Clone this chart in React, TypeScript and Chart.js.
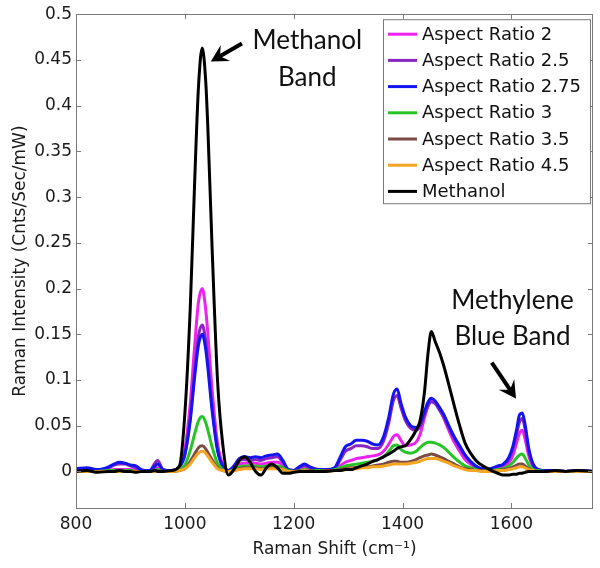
import React, { useEffect, useRef } from "react";
import { Chart, registerables } from "chart.js";

Chart.register(...registerables);

// Raman shift grid (cm^-1)
const ramanShift = [
  800, 820, 840, 860, 870, 880, 890, 900, 910, 920,
  935, 945, 950, 960, 975, 990, 1000, 1010, 1018, 1025,
  1032, 1038, 1042, 1050, 1060, 1070, 1080, 1090, 1100, 1110,
  1120, 1130, 1140, 1150, 1160, 1170, 1180, 1190, 1200, 1210,
  1220, 1230, 1245, 1260, 1275, 1285, 1295, 1305, 1315, 1325,
  1335, 1345, 1355, 1365, 1375, 1383, 1390, 1397, 1405, 1415,
  1425, 1432, 1440, 1447, 1453, 1460, 1468, 1476, 1485, 1495,
  1505, 1515, 1525, 1535, 1545, 1560, 1575, 1585, 1595, 1603,
  1610, 1615, 1620, 1625, 1632, 1640, 1650, 1665, 1680, 1700,
  1720, 1750,
];

const ar2 = [
  0, 0.001, 0, 0.001, 0.002, 0.002, 0.002, 0.002, 0.001, 0,
  0, 0.003, 0.004, 0.001, 0.001, 0.005, 0.024, 0.075, 0.137, 0.185,
  0.2, 0.179, 0.153, 0.09, 0.031, 0.007, 0.001, 0.004, 0.008, 0.009,
  0.009, 0.009, 0.008, 0.009, 0.01, 0.01, 0.007, 0.002, 0.001, 0.002,
  0.003, 0.002, 0.001, 0.001, 0.002, 0.006, 0.01, 0.012, 0.014, 0.015,
  0.016, 0.017, 0.018, 0.022, 0.03, 0.038, 0.04, 0.034, 0.028, 0.029,
  0.032, 0.04, 0.058, 0.072, 0.078, 0.075, 0.068, 0.058, 0.045, 0.032,
  0.022, 0.013, 0.008, 0.004, 0.002, 0.001, 0.003, 0.005, 0.009, 0.018,
  0.032, 0.042, 0.045, 0.036, 0.017, 0.005, 0.001, 0.001, 0, 0,
  0, 0,
];

const ar25 = [
  0.001, 0.002, 0.001, 0.004, 0.007, 0.008, 0.008, 0.006, 0.004, 0.001,
  0.001, 0.009, 0.012, 0.002, 0.001, 0.005, 0.019, 0.06, 0.11, 0.148,
  0.16, 0.144, 0.122, 0.072, 0.025, 0.005, 0.001, 0.005, 0.012, 0.013,
  0.012, 0.013, 0.012, 0.014, 0.015, 0.016, 0.01, 0.002, 0.001, 0.004,
  0.006, 0.004, 0.002, 0.002, 0.003, 0.012, 0.022, 0.025, 0.028, 0.028,
  0.027, 0.025, 0.025, 0.033, 0.054, 0.077, 0.083, 0.07, 0.056, 0.047,
  0.045, 0.049, 0.061, 0.072, 0.076, 0.074, 0.067, 0.059, 0.048, 0.036,
  0.026, 0.017, 0.01, 0.005, 0.003, 0.002, 0.005, 0.007, 0.013, 0.025,
  0.042, 0.054, 0.058, 0.047, 0.022, 0.007, 0.002, 0.001, 0.001, 0,
  0.001, 0,
];

const ar275 = [
  0.003, 0.004, 0.002, 0.005, 0.008, 0.01, 0.009, 0.007, 0.006, 0.002,
  0.001, 0.006, 0.008, 0.002, 0.001, 0.005, 0.018, 0.056, 0.103, 0.138,
  0.15, 0.135, 0.115, 0.067, 0.023, 0.005, 0.001, 0.006, 0.014, 0.016,
  0.015, 0.016, 0.015, 0.017, 0.018, 0.019, 0.012, 0.002, 0.001, 0.005,
  0.008, 0.005, 0.002, 0.002, 0.004, 0.015, 0.027, 0.03, 0.034, 0.034,
  0.033, 0.03, 0.029, 0.038, 0.06, 0.084, 0.09, 0.075, 0.06, 0.05,
  0.048, 0.052, 0.065, 0.076, 0.08, 0.077, 0.07, 0.062, 0.05, 0.038,
  0.028, 0.018, 0.011, 0.006, 0.003, 0.003, 0.006, 0.008, 0.015, 0.028,
  0.047, 0.062, 0.064, 0.052, 0.025, 0.008, 0.002, 0.001, 0.001, 0,
  0.001, 0,
];

const ar3 = [
  0, 0, 0, 0.001, 0.001, 0.001, 0.001, 0.001, 0, 0,
  0, 0.001, 0.002, 0, 0, 0.002, 0.007, 0.023, 0.041, 0.055,
  0.06, 0.054, 0.046, 0.027, 0.009, 0.002, 0, 0.002, 0.005, 0.006,
  0.006, 0.006, 0.005, 0.006, 0.006, 0.006, 0.004, 0.001, 0, 0.001,
  0.002, 0.001, 0.001, 0.001, 0.002, 0.004, 0.006, 0.007, 0.008, 0.009,
  0.01, 0.011, 0.013, 0.016, 0.022, 0.028, 0.029, 0.024, 0.021, 0.02,
  0.022, 0.026, 0.03, 0.032, 0.032, 0.031, 0.029, 0.026, 0.021, 0.015,
  0.01, 0.006, 0.004, 0.002, 0.001, 0.001, 0.002, 0.003, 0.006, 0.01,
  0.015, 0.018, 0.019, 0.015, 0.007, 0.002, 0.001, 0, 0, 0,
  0, 0,
];

const ar35 = [
  0, 0, 0, 0, 0, 0.001, 0, 0, 0, 0,
  0, 0, 0.001, 0, 0, 0.001, 0.003, 0.011, 0.019, 0.026,
  0.028, 0.025, 0.021, 0.013, 0.004, 0.001, 0, 0.001, 0.003, 0.004,
  0.004, 0.004, 0.003, 0.004, 0.005, 0.004, 0.002, 0, 0, 0.001,
  0.001, 0.001, 0, 0.001, 0.001, 0.002, 0.003, 0.004, 0.004, 0.005,
  0.005, 0.006, 0.007, 0.008, 0.01, 0.011, 0.011, 0.01, 0.01, 0.011,
  0.013, 0.015, 0.017, 0.018, 0.019, 0.018, 0.016, 0.014, 0.011, 0.008,
  0.005, 0.003, 0.002, 0.001, 0.001, 0, 0.001, 0.002, 0.003, 0.005,
  0.007, 0.008, 0.008, 0.006, 0.003, 0.001, 0, 0, 0, 0,
  0, 0,
];

const ar45 = [
  0, 0, 0, 0, 0, 0, 0, 0, 0, 0,
  0, 0, 0, 0, 0, 0.001, 0.003, 0.008, 0.015, 0.02,
  0.022, 0.02, 0.017, 0.01, 0.003, 0.001, 0, 0.001, 0.002, 0.003,
  0.003, 0.003, 0.002, 0.003, 0.003, 0.003, 0.002, 0, 0, 0,
  0.001, 0, 0, 0, 0.001, 0.001, 0.002, 0.003, 0.003, 0.004,
  0.004, 0.005, 0.005, 0.006, 0.007, 0.008, 0.008, 0.008, 0.008, 0.009,
  0.01, 0.011, 0.013, 0.014, 0.014, 0.014, 0.013, 0.011, 0.009, 0.006,
  0.004, 0.002, 0.001, 0.001, 0, 0, 0.001, 0.001, 0.002, 0.003,
  0.004, 0.005, 0.005, 0.004, 0.002, 0.001, 0, 0, 0, 0,
  0, 0,
];

const methanol = [
  0, 0.001, -0.001, 0, 0, 0.001, 0, 0, -0.001, 0,
  0, 0.001, 0, 0, 0.001, 0.006, 0.063, 0.18, 0.316, 0.42,
  0.463, 0.43, 0.38, 0.246, 0.1, 0.028, -0.004, 0.002, 0.012, 0.016,
  0.01, 0.0, -0.004, 0.004, 0.008, 0.004, -0.002, -0.002, -0.001, 0,
  0, 0, 0, 0, 0.001, 0.001, 0.002, 0.002, 0.004, 0.006,
  0.008, 0.011, 0.013, 0.016, 0.019, 0.022, 0.025, 0.027, 0.028, 0.035,
  0.045, 0.055, 0.085, 0.13, 0.153, 0.142, 0.13, 0.115, 0.095, 0.072,
  0.05, 0.031, 0.02, 0.012, 0.007, 0.002, -0.002, -0.004, -0.004, -0.003,
  -0.003, -0.002, -0.002, -0.001, 0, 0, 0, 0, 0.001, 0,
  0.001, 0,
];

const seriesNames = [
  "Aspect Ratio 2",
  "Aspect Ratio 2.5",
  "Aspect Ratio 2.75",
  "Aspect Ratio 3",
  "Aspect Ratio 3.5",
  "Aspect Ratio 4.5",
  "Methanol",
];
const seriesValues = [ar2, ar25, ar275, ar3, ar35, ar45, methanol];
const seriesColors = ["#ee22ee", "#8a25c2", "#1414f0", "#27c427", "#7b4b45", "#f5a524", "#000000"];

const xTicks = [800, 1000, 1200, 1400, 1600];
const xTickLabels = ["800", "1000", "1200", "1400", "1600"];
const yTicks = [0, 0.05, 0.1, 0.15, 0.2, 0.25, 0.3, 0.35, 0.4, 0.45, 0.5];
const yTickLabels = ["0", "0.05", "0.1", "0.15", "0.2", "0.25", "0.3", "0.35", "0.4", "0.45", "0.5"];

const xTitle = "Raman Shift (cm\u207B\u00B9)";
const yTitle = "Raman Intensity (Cnts/Sec/mW)";

// annotations in data coordinates
const methanolNote = { lines: ["Methanol", "Band"], x: 1225, y: [0.462, 0.4215] };
const methanolArrow = { from: [1105, 0.468], to: [1050, 0.449] };
const mbNote = { lines: ["Methylene", "Blue Band"], x: 1602, y: [0.178, 0.138] };
const mbArrow = { from: [1564, 0.119], to: [1607, 0.081] };

const TICK_FONT = "DejaVu Sans";

function drawArrow(ctx: CanvasRenderingContext2D, x1: number, y1: number, x2: number, y2: number) {
  const ang = Math.atan2(y2 - y1, x2 - x1);
  ctx.save();
  ctx.strokeStyle = "#000";
  ctx.fillStyle = "#000";
  ctx.lineWidth = 4;
  ctx.lineCap = "butt";
  ctx.beginPath();
  ctx.moveTo(x1, y1);
  ctx.lineTo(x2 - 6 * Math.cos(ang), y2 - 6 * Math.sin(ang));
  ctx.stroke();
  const L = 15;
  const spread = 0.5;
  ctx.beginPath();
  ctx.moveTo(x2, y2);
  ctx.lineTo(x2 - L * Math.cos(ang - spread), y2 - L * Math.sin(ang - spread));
  ctx.lineTo(x2 - 0.55 * L * Math.cos(ang), y2 - 0.55 * L * Math.sin(ang));
  ctx.lineTo(x2 - L * Math.cos(ang + spread), y2 - L * Math.sin(ang + spread));
  ctx.closePath();
  ctx.fill();
  ctx.lineWidth = 1.5;
  ctx.stroke();
  ctx.restore();
}

const overlayPlugin = {
  id: "overlay",
  afterDraw(chart: any) {
    const { ctx, chartArea: a, scales } = chart;
    const xs = scales.x;
    const ys = scales.y;
    ctx.save();
    // axes box
    ctx.strokeStyle = "#7a7a7a";
    ctx.lineWidth = 1;
    ctx.strokeRect(Math.round(a.left) + 0.5, Math.round(a.top) + 0.5, Math.round(a.right - a.left) - 1, Math.round(a.bottom - a.top));
    // inward ticks
    const tl = 5;
    ctx.beginPath();
    xTicks.forEach((v) => {
      const px = Math.round(xs.getPixelForValue(v)) + 0.5;
      ctx.moveTo(px, a.bottom);
      ctx.lineTo(px, a.bottom - tl);
      ctx.moveTo(px, a.top);
      ctx.lineTo(px, a.top + tl);
    });
    yTicks.forEach((v) => {
      const py = Math.round(ys.getPixelForValue(v)) + 0.5;
      ctx.moveTo(a.left, py);
      ctx.lineTo(a.left + tl, py);
      ctx.moveTo(a.right, py);
      ctx.lineTo(a.right - tl, py);
    });
    ctx.stroke();

    // legend
    const lx = a.left + 307;
    const ly = a.top + 5;
    const lw = 207;
    const lh = 184;
    ctx.fillStyle = "#ffffff";
    ctx.fillRect(lx, ly, lw, lh);
    ctx.strokeStyle = "#7a7a7a";
    ctx.strokeRect(lx + 0.5, ly + 0.5, lw, lh);
    ctx.font = `18px "${TICK_FONT}"`;
    ctx.textBaseline = "middle";
    ctx.textAlign = "left";
    seriesNames.forEach((name, i) => {
      const cy = ly + 15 + i * 26.2;
      ctx.strokeStyle = seriesColors[i];
      ctx.lineWidth = 3;
      ctx.beginPath();
      ctx.moveTo(lx + 5, cy);
      ctx.lineTo(lx + 34, cy);
      ctx.stroke();
      ctx.fillStyle = "#111";
      ctx.fillText(name, lx + 39, cy + 1);
    });

    // annotations
    ctx.fillStyle = "#111";
    ctx.font = '26px "Lato"';
    ctx.textAlign = "center";
    ctx.textBaseline = "alphabetic";
    methanolNote.lines.forEach((t, i) => {
      ctx.fillText(t, xs.getPixelForValue(methanolNote.x), ys.getPixelForValue(methanolNote.y[i]));
    });
    mbNote.lines.forEach((t, i) => {
      ctx.fillText(t, xs.getPixelForValue(mbNote.x), ys.getPixelForValue(mbNote.y[i]));
    });
    drawArrow(
      ctx,
      xs.getPixelForValue(methanolArrow.from[0]),
      ys.getPixelForValue(methanolArrow.from[1]),
      xs.getPixelForValue(methanolArrow.to[0]),
      ys.getPixelForValue(methanolArrow.to[1])
    );
    drawArrow(
      ctx,
      xs.getPixelForValue(mbArrow.from[0]),
      ys.getPixelForValue(mbArrow.from[1]),
      xs.getPixelForValue(mbArrow.to[0]),
      ys.getPixelForValue(mbArrow.to[1])
    );
    ctx.restore();
  },
};

export default function App() {
  const ref = useRef<HTMLCanvasElement | null>(null);
  useEffect(() => {
    if (!ref.current) return;
    const datasets = seriesNames.map((name, i) => ({
      label: name,
      data: ramanShift.map((x, j) => ({ x, y: seriesValues[i][j] })),
      borderColor: seriesColors[i],
      backgroundColor: seriesColors[i],
      borderWidth: 3,
      pointRadius: 0,
      cubicInterpolationMode: "monotone" as const,
      fill: false,
      order: seriesNames.length - i,
    }));
    const tickFont = { family: TICK_FONT, size: 17 };
    const chart = new Chart(ref.current, {
      type: "line",
      data: { datasets },
      plugins: [overlayPlugin],
      options: {
        animation: false,
        responsive: false,
        devicePixelRatio: 1,
        layout: { padding: { top: 13, right: 7, left: 0, bottom: 0 } },
        plugins: { legend: { display: false }, tooltip: { enabled: false } },
        scales: {
          x: {
            type: "linear",
            min: 800,
            max: 1750,
            grid: { display: false, drawTicks: false },
            border: { display: false },
            afterBuildTicks: (s: any) => {
              s.ticks = xTicks.map((v) => ({ value: v }));
            },
            afterFit: (s: any) => {
              s.height = 60;
            },
            ticks: {
              font: tickFont,
              color: "#1a1a1a",
              padding: 6,
              maxRotation: 0,
              autoSkip: false,
              callback: (_v: any, i: number) => xTickLabels[i],
            },
            title: {
              display: true,
              text: xTitle,
              font: tickFont,
              color: "#1a1a1a",
              padding: { top: 2, bottom: 8 },
            },
          },
          y: {
            type: "linear",
            min: -0.04,
            max: 0.5,
            grid: { display: false, drawTicks: false },
            border: { display: false },
            afterBuildTicks: (s: any) => {
              s.ticks = yTicks.map((v) => ({ value: v }));
            },
            afterFit: (s: any) => {
              s.width = 76;
            },
            ticks: {
              font: tickFont,
              color: "#1a1a1a",
              padding: 4,
              autoSkip: false,
              callback: (_v: any, i: number) => yTickLabels[i],
            },
            title: {
              display: true,
              text: yTitle,
              font: tickFont,
              color: "#1a1a1a",
              padding: { top: 10, bottom: 2 },
            },
          },
        },
      },
    } as any);
    return () => chart.destroy();
  }, []);
  return (
    <div style={{ position: "absolute", left: 0, top: 0, width: 600, height: 568, background: "#fff" }}>
      <canvas ref={ref} width={600} height={568} style={{ display: "block" }} />
    </div>
  );
}
